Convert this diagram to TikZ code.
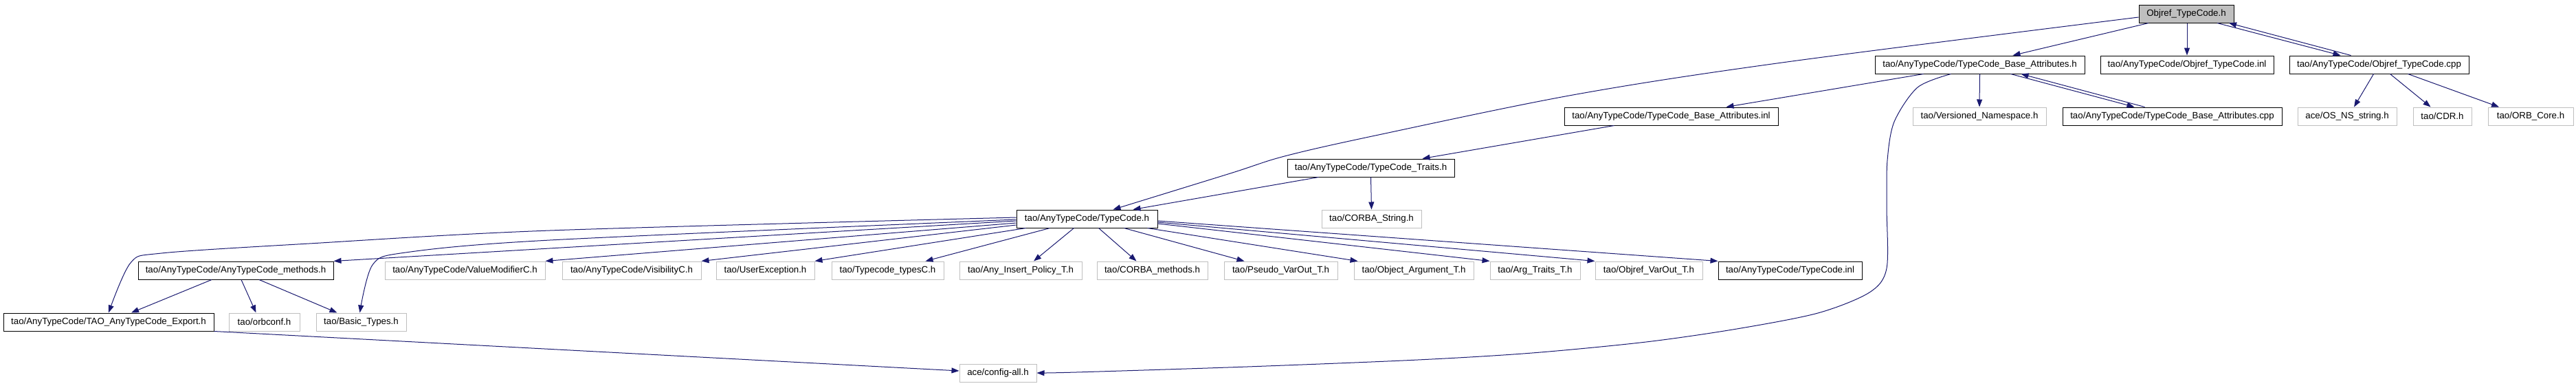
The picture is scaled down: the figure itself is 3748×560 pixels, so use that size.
\documentclass[tikz,border=0pt]{standalone}
\usepackage{fontspec}
\setmainfont{Liberation Sans}
\usetikzlibrary{arrows.meta}
\definecolor{edgec}{HTML}{191970}
\definecolor{grayc}{HTML}{BFBFBF}
\begin{document}
\begin{tikzpicture}[x=1pt,y=-1pt,
  box/.style={draw=black, line width=1pt, minimum height=26pt, inner sep=0pt,
    font=\fontsize{13.3pt}{15pt}\selectfont, anchor=center},
  gbox/.style={box, draw=grayc},
  rootbox/.style={box, fill=grayc},
  edge/.style={draw=edgec, line width=1pt, -{Triangle[length=11pt,width=8pt]}},
]
\useasboundingbox (0,0) rectangle (3748,560);
% row 0
\node[rootbox, minimum width=138pt] (root) at (3181,20) {Objref\_TypeCode.h};
% row 1
\node[box, minimum width=305pt] (tba) at (2880.5,94) {tao/AnyTypeCode/TypeCode\_Base\_Attributes.h};
\node[box, minimum width=252pt] (oinl) at (3182,94) {tao/AnyTypeCode/Objref\_TypeCode.inl};
\node[box, minimum width=261pt] (ocpp) at (3461.5,94) {tao/AnyTypeCode/Objref\_TypeCode.cpp};
% row 2
\node[box, minimum width=311pt] (tbainl) at (2431.5,169) {tao/AnyTypeCode/TypeCode\_Base\_Attributes.inl};
\node[gbox, minimum width=194pt] (vns) at (2880,169) {tao/Versioned\_Namespace.h};
\node[box, minimum width=319pt] (tbacpp) at (3160.5,169) {tao/AnyTypeCode/TypeCode\_Base\_Attributes.cpp};
\node[gbox, minimum width=144pt] (osns) at (3415,169) {ace/OS\_NS\_string.h};
\node[gbox, minimum width=85pt] (cdr) at (3553.5,169) {tao/CDR.h};
\node[gbox, minimum width=124pt] (orbcore) at (3682,169) {tao/ORB\_Core.h};
% row 3
\node[box, minimum width=243pt] (traits) at (1994.5,244) {tao/AnyTypeCode/TypeCode\_Traits.h};
% row 4
\node[box, minimum width=205pt] (tc) at (1581.5,318) {tao/AnyTypeCode/TypeCode.h};
\node[gbox, minimum width=145pt] (cstr) at (1995.5,318) {tao/CORBA\_String.h};
% row 5
\node[box, minimum width=284pt] (methods) at (343,393) {tao/AnyTypeCode/AnyTypeCode\_methods.h};
\node[gbox, minimum width=233pt] (vm) at (676.5,393) {tao/AnyTypeCode/ValueModifierC.h};
\node[gbox, minimum width=202pt] (vis) at (919,393) {tao/AnyTypeCode/VisibilityC.h};
\node[gbox, minimum width=143pt] (uex) at (1113.5,393) {tao/UserException.h};
\node[gbox, minimum width=163pt] (tct) at (1291.5,393) {tao/Typecode\_typesC.h};
\node[gbox, minimum width=178pt] (aip) at (1485,393) {tao/Any\_Insert\_Policy\_T.h};
\node[gbox, minimum width=161pt] (cm) at (1676.5,393) {tao/CORBA\_methods.h};
\node[gbox, minimum width=165pt] (pvo) at (1863.5,393) {tao/Pseudo\_VarOut\_T.h};
\node[gbox, minimum width=174pt] (oat) at (2057,393) {tao/Object\_Argument\_T.h};
\node[gbox, minimum width=131pt] (att) at (2233.5,393) {tao/Arg\_Traits\_T.h};
\node[gbox, minimum width=156pt] (ovo) at (2399,393) {tao/Objref\_VarOut\_T.h};
\node[box, minimum width=209pt] (tcinl) at (2604.5,393) {tao/AnyTypeCode/TypeCode.inl};
% row 6
\node[box, minimum width=306pt] (exp) at (158,468) {tao/AnyTypeCode/TAO\_AnyTypeCode\_Export.h};
\node[gbox, minimum width=103pt] (orbconf) at (384.5,468) {tao/orbconf.h};
\node[gbox, minimum width=131pt] (bt) at (525.5,468) {tao/Basic\_Types.h};
% row 7
\node[gbox, minimum width=112pt] (cfg) at (1452,542) {ace/config-all.h};

% edges from root
\draw[edge] ([xshift=-55pt]root.south) -- ([xshift=48pt]tba.north);
\draw[edge] ([xshift=1pt]root.south) -- (oinl.north);
\draw[edge] ([xshift=45pt]root.south) -- ([xshift=-56pt]ocpp.north);
\draw[edge] ([xshift=-41pt]ocpp.north) -- ([xshift=62pt]root.south);
\coordinate (rs) at ([yshift=-5pt]root.west);
\coordinate (re) at ([xshift=38pt]tc.north);
\draw[edge] plot[smooth, tension=0.55] coordinates {(rs) (2600,90) (2294,137) (2001,197) (1869,227) (1790,252) (re)};

% edges from TypeCode_Base_Attributes.h
\draw[edge] ([xshift=-82pt]tba.south) -- ([xshift=80pt]tbainl.north);
\draw[edge] (tba.south) -- (vns.north);
\draw[edge] ([xshift=45pt]tba.south) -- ([xshift=-55pt]tbacpp.north);
\draw[edge] ([xshift=-40pt]tbacpp.north) -- ([xshift=60pt]tba.south);
\coordinate (cs) at ([xshift=-42pt]tba.south);
\draw[edge] plot[smooth, tension=0.5] coordinates {(cs) (2790,127) (2756,177) (2746,233) (2745,300) (2745,390) (2720,425) (2645,455) (2527,478) (2395,497) (2229,513) (2063,523) (1815,533) (1566,541) (cfg.east)};

% inl / traits
\draw[edge] ([xshift=-83pt]tbainl.south) -- ([xshift=75pt]traits.north);
\draw[edge] ([xshift=-76pt]traits.south) -- ([xshift=67pt]tc.north);
\draw[edge] (traits.south) -- (cstr.north);

% objref cpp
\draw[edge] ([xshift=-8pt]ocpp.south) -- ([xshift=10pt]osns.north);
\draw[edge] ([xshift=16pt]ocpp.south) -- ([xshift=-17pt]cdr.north);
\draw[edge] ([xshift=42pt]ocpp.south) -- ([xshift=-46pt]orbcore.north);

% TypeCode.h fan
\draw[edge] ([yshift=-3pt]tc.east) -- (tcinl.north west);
\draw[edge] ([yshift=-5pt]tc.east) -- (ovo.north west);
\draw[edge] ([yshift=-7pt]tc.east) -- (att.north west);
\draw[edge] ([xshift=-15pt]tc.south east) -- ([xshift=6pt]oat.north west);
\draw[edge] ([xshift=54pt]tc.south) -- ([xshift=-53pt]pvo.north);
\draw[edge] ([xshift=17pt]tc.south) -- ([xshift=-23pt]cm.north);
\draw[edge] ([xshift=-19pt]tc.south) -- ([xshift=19pt]aip.north);
\draw[edge] ([xshift=-54pt]tc.south) -- ([xshift=55pt]tct.north);
\draw[edge] ([xshift=14pt]tc.south west) -- (uex.north east);
\draw[edge] ([yshift=-9pt]tc.west) -- (vis.north east);
\draw[edge] ([yshift=-6pt]tc.west) -- (vm.north east);
\draw[edge] ([yshift=-3pt]tc.west) -- (methods.north east);
\coordinate (bs) at ([yshift=-1pt]tc.west);
\coordinate (be) at ([xshift=-2pt]bt.north);
\draw[edge] plot[smooth, tension=0.5] coordinates {(bs) (800,349) (590,367) (542,385) (be)};
\coordinate (es) at ([yshift=2pt]tc.west);
\draw[edge] plot[smooth, tension=0.5] coordinates {(es) (800,335) (450,354) (235,368) (190,382) (exp.north)};

% row 5 -> 6
\draw[edge] ([xshift=-35pt]methods.south) -- ([xshift=33pt]exp.north);
\draw[edge] ([xshift=8pt]methods.south) -- ([xshift=-12pt]orbconf.north);
\draw[edge] ([xshift=34pt]methods.south) -- ([xshift=-35pt]bt.north);
\draw[edge] (exp.south east) -- ([yshift=3pt]cfg.west);
\end{tikzpicture}
\end{document}
